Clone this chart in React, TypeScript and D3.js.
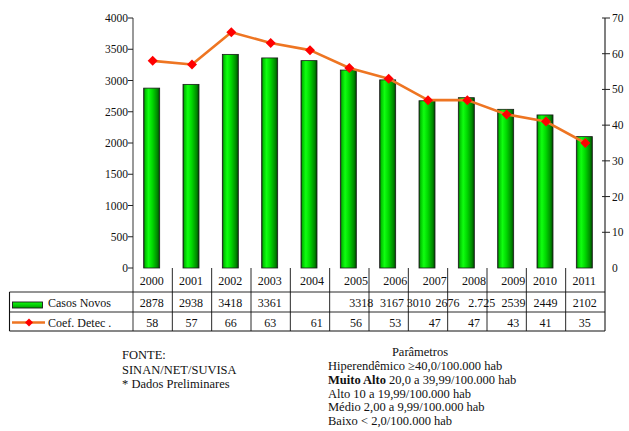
import React from "react";
import * as d3 from "d3";

const years = ["2000","2001","2002","2003","2004","2005","2006","2007","2008","2009","2010","2011"];
const casosNovos = [2878, 2938, 3418, 3361, 3318, 3167, 3010, 2676, 2725, 2539, 2449, 2102];
const coefDetec = [58, 57, 66, 63, 61, 56, 53, 47, 47, 43, 41, 35];
const casosLabels = ["2878","2938","3418","3361","3318","3167","3010","2676","2.725","2539","2449","2102"];
const leftTicks = [0, 500, 1000, 1500, 2000, 2500, 3000, 3500, 4000];
const rightTicks = [0, 10, 20, 30, 40, 50, 60, 70];
const seriesNames = ["Casos Novos", "Coef. Detec ."];
const sourceLines = ["FONTE:", "SINAN/NET/SUVISA", "* Dados Preliminares"];
const paramTitle = "Parâmetros";
const paramLines = [
  { bold: "", rest: "Hiperendêmico ≥40,0/100.000 hab" },
  { bold: "Muito Alto", rest: " 20,0 a 39,99/100.000 hab" },
  { bold: "", rest: "Alto 10 a 19,99/100.000 hab" },
  { bold: "", rest: "Médio 2,00 a 9,99/100.000 hab" },
  { bold: "", rest: "Baixo < 2,0/100.000 hab" },
];

// layout (the original table is misaligned; these reproduce the look)
const casosSlots = [0, 1, 2, 3, 5.33, 6.11, 6.79, 7.52, 8.39, 9.2, 10.01, 11.01];
const yearAlign = ["m","m","m","m","m2","e","e","e","e","e","m","m"];
const coefAlign = ["m","m","m","m","e","e","e","e","e","e","m","m"];

const FONT = "Liberation Serif, Times New Roman, DejaVu Serif, serif";

export default function App() {
  const W = 629, H = 431;
  const left = 133, right = 605, top = 18, base = 268;
  const x = d3.scaleBand<string>().domain(years).range([left, right]).padding(0);
  const step = x.step();
  const cx = (i: number) => (x(years[i]) as number) + step / 2;
  const yL = d3.scaleLinear().domain([0, 4000]).range([base, top]);
  const yR = d3.scaleLinear().domain([0, 70]).range([base, top]);
  const barW = 16;
  const row1 = 292, row2 = 312, row3 = 331, tableLeft = 9.5;

  const line = d3.line<number>().x((_, i) => cx(i)).y((d) => yR(d));
  const diamond = (px: number, py: number, r = 5) =>
    `M${px},${py - r}L${px + r},${py}L${px},${py + r}L${px - r},${py}Z`;
  const ts: React.CSSProperties = { fontFamily: FONT };

  return (
    <svg width={W} height={H} style={{ position: "absolute", left: 0, top: 0, background: "#fff", fontFamily: FONT }}>
      <defs>
        <linearGradient id="barGrad" x1="0" x2="1" y1="0" y2="0">
          <stop offset="0%" stopColor="#0b3f0b" />
          <stop offset="10%" stopColor="#00c400" />
          <stop offset="30%" stopColor="#10ff10" />
          <stop offset="55%" stopColor="#00d800" />
          <stop offset="85%" stopColor="#008a00" />
          <stop offset="100%" stopColor="#004400" />
        </linearGradient>
        <linearGradient id="swGrad" x1="0" x2="0" y1="0" y2="1">
          <stop offset="0%" stopColor="#10ff10" />
          <stop offset="100%" stopColor="#00a000" />
        </linearGradient>
      </defs>

      {casosNovos.map((v, i) => (
        <rect key={"b" + i} x={cx(i) - 1 - barW / 2} y={yL(v)} width={barW} height={base - yL(v)}
          fill="url(#barGrad)" stroke="#1a1a1a" strokeWidth={0.8} />
      ))}

      <line x1={left} x2={left} y1={top} y2={row3} stroke="#6e6e6e" strokeWidth={1.4} />
      {leftTicks.map((t) => (
        <g key={"lt" + t}>
          <line x1={left - 5} x2={left} y1={yL(t)} y2={yL(t)} stroke="#222" strokeWidth={1} />
          <text style={ts} x={left - 5} y={yL(t) + 4} textAnchor="end" fontSize={11.5} fill="#111">{t}</text>
        </g>
      ))}

      <line x1={right} x2={right} y1={top} y2={row3} stroke="#808080" strokeWidth={2} />
      {rightTicks.map((t) => (
        <g key={"rt" + t}>
          {t > 0 && <line x1={right - 3} x2={right + 5} y1={yR(t)} y2={yR(t)} stroke="#222" strokeWidth={1} />}
          <text style={ts} x={right + 7} y={yR(t) + 4} textAnchor="start" fontSize={11.5} fill="#111">{t}</text>
        </g>
      ))}

      <path d={line(coefDetec) as string} fill="none" stroke="#EE7522" strokeWidth={2.6} strokeLinejoin="round" />
      {coefDetec.map((v, i) => (
        <path key={"m" + i} d={diamond(cx(i), yR(v), 5)} fill="#FF0000" />
      ))}

      {years.map((_, i) => i > 0 ? (
        <line key={"vl" + i} x1={x(years[i]) as number} x2={x(years[i]) as number} y1={base} y2={row3} stroke="#111" strokeWidth={0.9} />
      ) : null)}
      <line x1={tableLeft} x2={right} y1={row1} y2={row1} stroke="#111" strokeWidth={0.9} />
      <line x1={tableLeft} x2={right} y1={row2} y2={row2} stroke="#111" strokeWidth={0.9} />
      <line x1={tableLeft} x2={right} y1={row3} y2={row3} stroke="#111" strokeWidth={1.1} />
      <line x1={tableLeft} x2={tableLeft} y1={row1} y2={row3} stroke="#111" strokeWidth={1.1} />

      {years.map((yv, i) => {
        const a = yearAlign[i];
        const xr = (x(yv) as number) + step;
        return (
          <text style={ts} key={"yr" + i} x={a === "e" ? xr - 1 : cx(i) + (a === "m2" ? 2 : -1)} y={284.5}
            textAnchor={a === "e" ? "end" : "middle"} fontSize={12} fill="#111">{yv}</text>
        );
      })}

      <rect x={12.5} y={302} width={30} height={6} fill="url(#swGrad)" stroke="#1a1a1a" strokeWidth={0.9} />
      <text style={ts} x={48} y={306.5} fontSize={12} fill="#111">{seriesNames[0]}</text>
      {casosLabels.map((s, i) => (
        <text style={ts} key={"cl" + i} x={left + casosSlots[i] * step + step / 2 - 1} y={306.5} textAnchor="middle" fontSize={12} fill="#111">{s}</text>
      ))}

      <line x1={12} x2={45} y1={322.5} y2={322.5} stroke="#EE7522" strokeWidth={2.4} />
      <path d={diamond(29, 322.5, 4)} fill="#FF0000" />
      <text style={ts} x={48} y={326.5} fontSize={12} fill="#111">{seriesNames[1]}</text>
      {coefDetec.map((v, i) => {
        const a = coefAlign[i];
        const xr = (x(years[i]) as number) + step;
        return (
          <text style={ts} key={"co" + i} x={a === "e" ? xr - 7 : cx(i) - 0.5} y={326.5}
            textAnchor={a === "e" ? "end" : "middle"} fontSize={12} fill="#111">{v}</text>
        );
      })}

      {sourceLines.map((s, i) => (
        <text style={ts} key={"s" + i} x={122} y={359 + i * 14.5} fontSize={12.5} fill="#111">{s}</text>
      ))}
      <text style={ts} x={420} y={356} textAnchor="middle" fontSize={12.5} fill="#111">{paramTitle}</text>
      {paramLines.map((p, i) => (
        <text style={ts} key={"p" + i} x={328} y={370 + i * 13.8} fontSize={12.5} fill="#111">
          {p.bold && <tspan fontWeight="bold">{p.bold}</tspan>}
          <tspan>{p.rest}</tspan>
        </text>
      ))}
    </svg>
  );
}
